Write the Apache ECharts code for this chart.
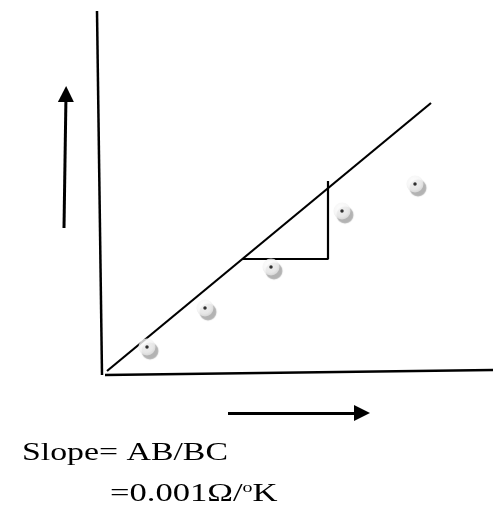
<!DOCTYPE html>
<html>
<head>
<meta charset="utf-8">
<script src="https://cdn.jsdelivr.net/npm/echarts@6/dist/echarts.min.js"></script>
<style>
  html, body { margin: 0; padding: 0; background: #fff; }
  #chart { width: 500px; height: 506px; }
</style>
</head>
<body>
<div id="chart"></div>
<script>
// Sketch of resistance vs temperature with the best-fit line and slope triangle.
// Coordinates are in the drawing's own units (x to the right, y upward).
const yAxisLine = [[97, 495], [102, 131]];
const xAxisLine = [[105, 131], [493, 136]];
const fitLine = [[107, 135], [431, 403]];
const slopeTriangle = [[243, 247], [328, 247], [328, 325]];
const readings = [[147, 159], [205, 198], [271, 239], [342, 295], [415, 322]];
const upArrow = [[64, 278], [66, 412]];
const rightArrow = [[228, 93], [362, 93]];
const slopeLine1 = 'Slope= AB/BC';
const slopeLine2 = '=0.001Ω/{sup|o}K';

const chart = echarts.init(document.getElementById('chart'), null, { renderer: 'canvas' });

const strokeSeries = (data, width) => ({
  type: 'line',
  data: data,
  symbol: 'none',
  silent: true,
  lineStyle: { color: '#000', width: width },
  z: 2
});

chart.setOption({
  animation: false,
  backgroundColor: '#fff',
  grid: { left: 0, right: 0, top: 0, bottom: 0 },
  xAxis: { type: 'value', min: 0, max: 500, show: false },
  yAxis: { type: 'value', min: 0, max: 506, show: false },
  series: [
    strokeSeries(yAxisLine, 2.5),
    strokeSeries(xAxisLine, 2.5),
    strokeSeries(fitLine, 2.2),
    strokeSeries(slopeTriangle, 2.2),
    {
      type: 'lines',
      coordinateSystem: 'cartesian2d',
      silent: true,
      symbol: ['none', 'triangle'],
      symbolSize: [15, 16],
      lineStyle: { color: '#000', width: 3, opacity: 1 },
      data: [{ coords: upArrow }, { coords: rightArrow }],
      z: 3
    },
    {
      type: 'scatter',
      data: readings,
      symbol: 'circle',
      symbolSize: 17,
      silent: true,
      itemStyle: {
        color: {
          type: 'radial', x: 0.45, y: 0.4, r: 0.6,
          colorStops: [
            { offset: 0, color: '#ffffff' },
            { offset: 0.7, color: '#f4f4f4' },
            { offset: 1, color: '#e0e0e0' }
          ]
        },
        shadowColor: 'rgba(160,160,160,1)',
        shadowOffsetX: 3,
        shadowOffsetY: 4,
        shadowBlur: 1
      },
      z: 4
    },
    {
      type: 'scatter',
      data: readings,
      symbol: 'circle',
      symbolSize: 3.5,
      silent: true,
      itemStyle: { color: '#000' },
      z: 5
    }
  ],
  graphic: [
    {
      type: 'text',
      x: 22,
      y: 440,
      scaleX: 1.3,
      style: {
        text: slopeLine1,
        font: '26px "Liberation Serif"',
        fill: '#000',
        verticalAlign: 'top'
      }
    },
    {
      type: 'text',
      x: 110,
      y: 481,
      scaleX: 1.33,
      style: {
        text: slopeLine2,
        font: '26px "Liberation Serif"',
        fill: '#000',
        verticalAlign: 'top',
        rich: {
          sup: { fontSize: 15, fontFamily: 'Liberation Serif', padding: [0, 0, 12, 0], fill: '#000' }
        }
      }
    }
  ]
});
</script>
</body>
</html>
